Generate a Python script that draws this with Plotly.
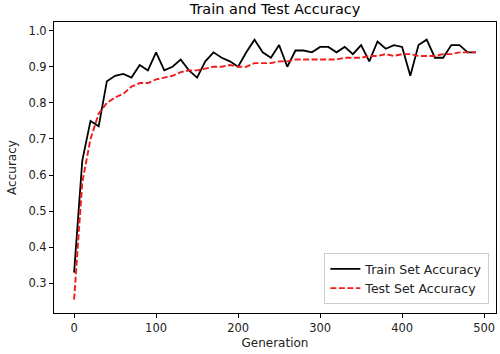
import plotly.graph_objects as go

generations = list(range(0, 500, 10))
train_acc = [0.33, 0.64, 0.75, 0.735, 0.86, 0.875, 0.88, 0.87, 0.905, 0.89,
             0.94, 0.89, 0.90, 0.92, 0.89, 0.87, 0.915, 0.94, 0.925, 0.915,
             0.90, 0.94, 0.975, 0.94, 0.925, 0.96, 0.90, 0.945, 0.945, 0.94,
             0.955, 0.955, 0.94, 0.955, 0.935, 0.96, 0.915, 0.97, 0.95, 0.96,
             0.955, 0.875, 0.96, 0.975, 0.925, 0.925, 0.96, 0.96, 0.94, 0.94]
test_acc = [0.255, 0.58, 0.70, 0.77, 0.80, 0.815, 0.825, 0.845, 0.855, 0.855,
            0.865, 0.87, 0.875, 0.885, 0.89, 0.89, 0.895, 0.90, 0.90, 0.905,
            0.90, 0.90, 0.91, 0.91, 0.91, 0.915, 0.915, 0.92, 0.92, 0.92,
            0.92, 0.92, 0.92, 0.925, 0.925, 0.925, 0.93, 0.93, 0.935, 0.93,
            0.935, 0.935, 0.93, 0.93, 0.93, 0.935, 0.935, 0.94, 0.94, 0.94]
x_ticks = [0, 100, 200, 300, 400, 500]
y_ticks = [0.3, 0.4, 0.5, 0.6, 0.7, 0.8, 0.9, 1.0]

font = "DejaVu Sans, Arial, sans-serif"
fig = go.Figure()
fig.add_trace(go.Scatter(x=generations, y=train_acc, mode="lines",
                         name="Train Set Accuracy",
                         line=dict(color="black", width=1.8)))
fig.add_trace(go.Scatter(x=generations, y=test_acc, mode="lines",
                         name="Test Set Accuracy",
                         line=dict(color="#f01c1c", width=1.9, dash="6px,2.5px")))

axis_common = dict(showline=True, linecolor="black", linewidth=1, mirror=True,
                   ticks="outside", ticklen=4, tickcolor="black",
                   showgrid=False, zeroline=False,
                   tickfont=dict(size=11.5, color="#222", family=font))
fig.update_layout(
    width=500, height=354,
    margin=dict(l=54, r=4, t=22, b=41),
    paper_bgcolor="white", plot_bgcolor="white",
    title=dict(text="Train and Test Accuracy", x=0.55, xanchor="center",
               y=0.988, yanchor="top",
               font=dict(size=14.5, color="black", family=font)),
    xaxis=dict(range=[-24.5, 514.5], tickvals=x_ticks,
               title=dict(text="Generation", standoff=4,
                          font=dict(size=12, color="#222", family=font)),
               **axis_common),
    yaxis=dict(range=[0.218, 1.024], tickvals=y_ticks, tickformat=".1f",
               title=dict(text="Accuracy", standoff=9,
                          font=dict(size=12, color="#222", family=font)),
               **axis_common),
    legend=dict(x=0.985, y=0.03, xanchor="right", yanchor="bottom",
                bgcolor="white", bordercolor="#cccccc", borderwidth=1,
                font=dict(size=12.5, color="#222", family=font)),
)
fig.write_html("out.html")
